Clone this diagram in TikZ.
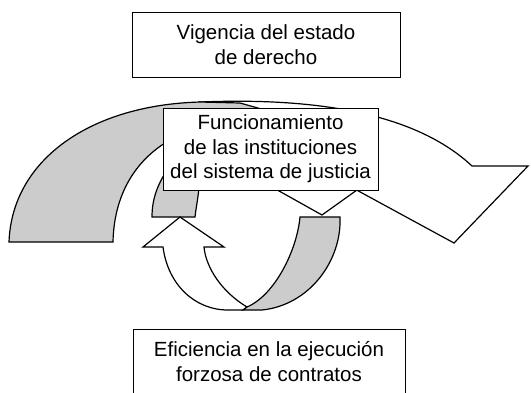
\documentclass[tikz,border=0pt]{standalone}
\usepackage{fontspec}
\setmainfont{Liberation Sans}
\begin{document}
\begin{tikzpicture}[x=1pt, y=-1pt,
        textbox/.style={draw, shape=rectangle, fill=white, line width=0.9pt, align=center, inner sep=0pt, font=\fontsize{20.5}{24.5}\selectfont},
        band/.style={draw, line width=1.2pt, line join=miter}]
            \definecolor{Gcolor}{RGB}{204, 204, 204}
            \clip (0, 0) rectangle (531, 392);
            \fill[white] (0, 0) rectangle (531, 392);
            % big arrow, white side and head
            \draw[band, fill=white] (200, 102) .. controls (300, 98) and (410, 108) .. (472, 166) -- (528, 166) -- (454, 243) -- (340, 181) -- (260, 140) -- (220, 115) -- cycle;
            % big arrow, grey side
            \draw[band, fill=Gcolor] (9, 242) .. controls (12, 160) and (90, 105) .. (200, 102) -- (240, 103) -- (272, 112) -- (200, 125) -- (170, 140) .. controls (135, 160) and (114, 195) .. (113, 242) -- cycle;
            % head above the loop
            \draw[band] (263, 182) -- (322, 215) -- (364, 185);
            % grey tail under the middle box
            \draw[band, fill=Gcolor] (152, 217) .. controls (152, 198) and (158, 182) .. (172, 163) -- (200, 175) .. controls (199, 195) and (196, 207) .. (195, 217) -- cycle;
            % loop, white side and head
            \draw[band, fill=white] (180, 217) -- (224, 247) -- (204, 247) .. controls (206, 268) and (222, 292) .. (247, 307) -- (243, 310) -- (228, 310) .. controls (195, 310) and (168, 285) .. (163, 247) -- (143, 247) -- cycle;
            % loop, grey side
            \draw[band, fill=Gcolor] (247, 307) .. controls (275, 295) and (297, 250) .. (300, 217) -- (340, 217) .. controls (342, 260) and (310, 305) .. (262, 310) -- (243, 310) -- cycle;
            % boxes
            \node[textbox, minimum width=268pt, minimum height=65pt] (estado) at (266, 44.5) {Vigencia del estado\\de derecho};
            \node[textbox, minimum width=215pt, minimum height=82pt] (justicia) at (270.5, 149) {Funcionamiento\\de las instituciones\\del sistema de justicia};
            \node[textbox, minimum width=272pt, minimum height=65pt] (contratos) at (269, 361.5) {Eficiencia en la ejecución\\forzosa de contratos};
        \end{tikzpicture}
\end{document}
